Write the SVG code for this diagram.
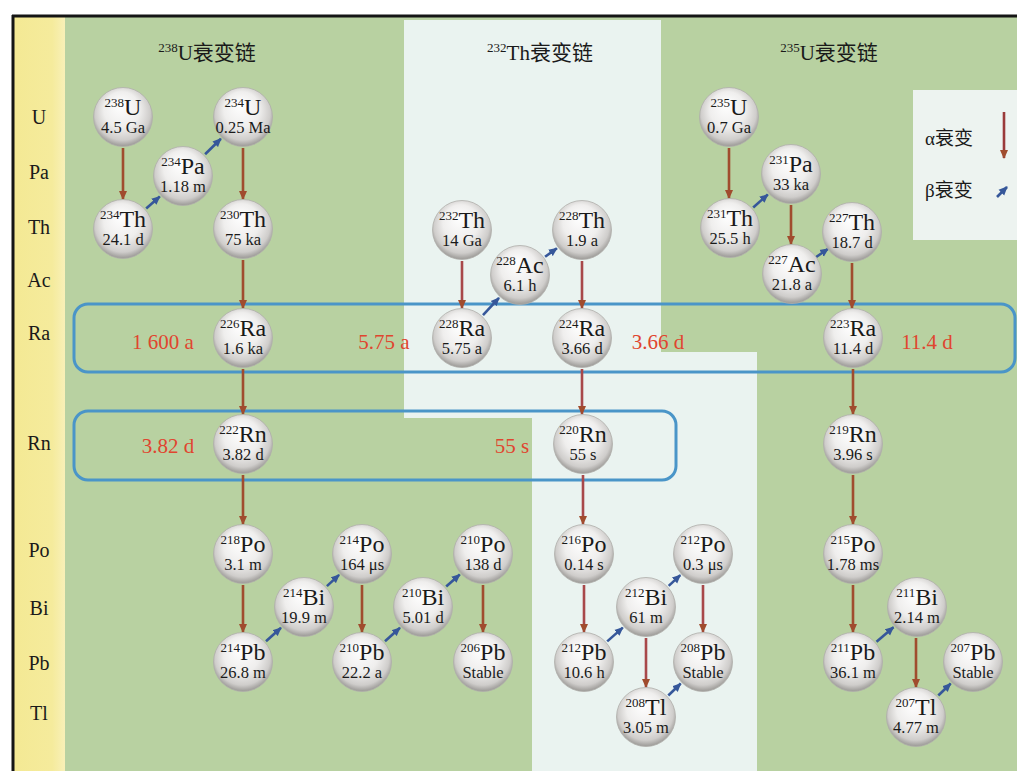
<svg xmlns="http://www.w3.org/2000/svg" width="1017" height="771" viewBox="0 0 1017 771">
<style>
text{font-family:"Liberation Serif","Noto Sans CJK SC",serif;fill:#1a1a1a}
.el{font-size:24px;text-anchor:middle}
.sup{font-size:13px}
.hl{font-size:16.5px;text-anchor:middle}
.row{font-size:20px;text-anchor:middle}
.title{font-size:21px;text-anchor:middle}
.red{font-size:21px;fill:#e0452f;text-anchor:middle}
.leg{font-size:19px}
.ball{fill:url(#ballg);stroke:#b0aeab;stroke-width:0.8}
.a{stroke:#a04c2e;stroke-width:2.6;fill:none;marker-end:url(#ma)}
.b{stroke:#36579a;stroke-width:2.6;fill:none;marker-end:url(#mb)}
.box{fill:none;stroke:#4a95c8;stroke-width:3}
</style>
<defs>
<radialGradient id="ballg" cx="0.5" cy="0.45" r="0.55" fx="0.45" fy="0.28">
<stop offset="0" stop-color="#ffffff"/>
<stop offset="0.55" stop-color="#efeeed"/>
<stop offset="0.85" stop-color="#cfcdcb"/>
<stop offset="1" stop-color="#9a9895"/>
</radialGradient>
<linearGradient id="yg" x1="0" y1="0" x2="1" y2="0">
<stop offset="0" stop-color="#f4e994"/>
<stop offset="0.75" stop-color="#f5eb9c"/>
<stop offset="1" stop-color="#f8f0b8"/>
</linearGradient>
<marker id="ma" viewBox="0 0 10 10" refX="9" refY="5" markerWidth="3.6" markerHeight="3.6" orient="auto">
<path d="M0,0.5 L10,5 L0,9.5 z" fill="#a04c2e"/>
</marker>
<marker id="mb" viewBox="0 0 10 10" refX="9" refY="5" markerWidth="3.4" markerHeight="3.4" orient="auto">
<path d="M0,0.5 L10,5 L0,9.5 z" fill="#36579a"/>
</marker>
</defs>

<g id="background">
<rect x="0" y="0" width="1017" height="771" fill="#ffffff"/>
<rect x="14" y="17" width="51" height="754" fill="url(#yg)"/>
<rect x="65" y="17" width="952" height="754" fill="#b8d1a1"/>
<path d="M404,20 H661 V352 H757 V771 H532 V418 H404 Z" fill="#eaf3f0"/>
<rect x="913" y="90" width="104" height="150" fill="#edf3f0"/>
<line x1="12" y1="16" x2="1017" y2="16" stroke="#151515" stroke-width="3"/>
<line x1="13" y1="15" x2="13" y2="771" stroke="#151515" stroke-width="3"/>
</g>

<g id="row-labels">
<text class="row" x="39" y="124">U</text>
<text class="row" x="39" y="179">Pa</text>
<text class="row" x="39" y="234">Th</text>
<text class="row" x="39" y="287">Ac</text>
<text class="row" x="39" y="340">Ra</text>
<text class="row" x="39" y="450">Rn</text>
<text class="row" x="39" y="557">Po</text>
<text class="row" x="39" y="615">Bi</text>
<text class="row" x="39" y="670">Pb</text>
<text class="row" x="39" y="720">Tl</text>
</g>

<g id="titles">
<text class="title" x="207" y="60"><tspan class="sup" dy="-8">238</tspan><tspan dy="8">U衰变链</tspan></text>
<text class="title" x="540" y="60"><tspan class="sup" dy="-8">232</tspan><tspan dy="8">Th衰变链</tspan></text>
<text class="title" x="829" y="60"><tspan class="sup" dy="-8">235</tspan><tspan dy="8">U衰变链</tspan></text>
</g>

<g id="legend">
<text class="leg" x="925" y="145">α衰变</text>
<text class="leg" x="925" y="197">β衰变</text>
<line class="a" x1="1004" y1="112" x2="1004" y2="158" style="stroke:#9a3a3a"/>
<line class="b" x1="997" y1="197" x2="1007" y2="187"/>
</g>

<g id="highlight-boxes">
<rect class="box" x="74" y="304" width="941" height="68" rx="14"/>
<rect class="box" x="74" y="411" width="602" height="69" rx="14"/>
</g>

<g id="half-life-labels">
<text class="red" x="163" y="349">1 600 a</text>
<text class="red" x="384" y="349">5.75 a</text>
<text class="red" x="658" y="349">3.66 d</text>
<text class="red" x="927" y="349">11.4 d</text>
<text class="red" x="168" y="453">3.82 d</text>
<text class="red" x="512" y="453">55 s</text>
</g>

<g id="connectors">
<line class="a" x1="123" y1="148" x2="123" y2="199"/>
<line class="a" x1="243" y1="148" x2="243" y2="199"/>
<line class="a" x1="243" y1="260" x2="243" y2="308"/>
<line class="a" x1="243" y1="369" x2="243" y2="414"/>
<line class="a" x1="243" y1="475" x2="243" y2="524"/>
<line class="a" x1="243" y1="585" x2="243" y2="632"/>
<line class="a" x1="362" y1="585" x2="362" y2="632"/>
<line class="a" x1="483" y1="585" x2="483" y2="632"/>
<line class="a" x1="462" y1="261" x2="462" y2="308" style="stroke:#a8484a"/>
<line class="a" x1="582" y1="261" x2="582" y2="308" style="stroke:#a8484a"/>
<line class="a" x1="582" y1="369" x2="582" y2="414" style="stroke:#a8484a"/>
<line class="a" x1="583" y1="475" x2="583" y2="524" style="stroke:#a8484a"/>
<line class="a" x1="584" y1="585" x2="584" y2="632" style="stroke:#a8484a"/>
<line class="a" x1="646" y1="638" x2="646" y2="687" style="stroke:#a8484a"/>
<line class="a" x1="703" y1="585" x2="703" y2="632" style="stroke:#a8484a"/>
<line class="a" x1="729" y1="148" x2="729" y2="198"/>
<line class="a" x1="791" y1="205" x2="791" y2="244"/>
<line class="a" x1="852" y1="263" x2="852" y2="308"/>
<line class="a" x1="853" y1="369" x2="853" y2="414"/>
<line class="a" x1="853" y1="475" x2="853" y2="524"/>
<line class="a" x1="853" y1="585" x2="853" y2="632"/>
<line class="a" x1="916" y1="638" x2="916" y2="687"/>
<line class="b" x1="146.2" y1="208.5" x2="159.8" y2="196.5"/>
<line class="b" x1="205.1" y1="154.3" x2="220.9" y2="138.7"/>
<line class="b" x1="266" y1="641.2" x2="281" y2="627.8"/>
<line class="b" x1="326.9" y1="586.1" x2="339.1" y2="574.9"/>
<line class="b" x1="385" y1="641.2" x2="400" y2="627.8"/>
<line class="b" x1="446.2" y1="586.5" x2="459.8" y2="574.5"/>
<line class="b" x1="483" y1="315.2" x2="499" y2="297.8"/>
<line class="b" x1="545.1" y1="256.8" x2="556.9" y2="248.2"/>
<line class="b" x1="607.2" y1="641.4" x2="622.8" y2="627.6"/>
<line class="b" x1="668.7" y1="585.9" x2="680.3" y2="575.1"/>
<line class="b" x1="668.3" y1="695.5" x2="680.7" y2="683.5"/>
<line class="b" x1="753.2" y1="207.5" x2="767.8" y2="194.5"/>
<line class="b" x1="815.8" y1="257.3" x2="828.2" y2="248.7"/>
<line class="b" x1="876.5" y1="641.8" x2="893.5" y2="627.2"/>
<line class="b" x1="938.3" y1="695.5" x2="950.7" y2="683.5"/>
</g>

<g id="n-U238"><circle class="ball" cx="123" cy="117" r="29.5"/><text class="el" x="123" y="115"><tspan class="sup" dy="-8">238</tspan><tspan dy="8">U</tspan></text><text class="hl" x="123" y="133">4.5 Ga</text></g>
<g id="n-Th234"><circle class="ball" cx="123" cy="229" r="29.5"/><text class="el" x="123" y="227"><tspan class="sup" dy="-8">234</tspan><tspan dy="8">Th</tspan></text><text class="hl" x="123" y="245">24.1 d</text></g>
<g id="n-Pa234"><circle class="ball" cx="183" cy="176" r="29.5"/><text class="el" x="183" y="174"><tspan class="sup" dy="-8">234</tspan><tspan dy="8">Pa</tspan></text><text class="hl" x="183" y="192">1.18 m</text></g>
<g id="n-U234"><circle class="ball" cx="243" cy="117" r="29.5"/><text class="el" x="243" y="115"><tspan class="sup" dy="-8">234</tspan><tspan dy="8">U</tspan></text><text class="hl" x="243" y="133">0.25 Ma</text></g>
<g id="n-Th230"><circle class="ball" cx="243" cy="229" r="29.5"/><text class="el" x="243" y="227"><tspan class="sup" dy="-8">230</tspan><tspan dy="8">Th</tspan></text><text class="hl" x="243" y="245">75 ka</text></g>
<g id="n-Ra226"><circle class="ball" cx="243" cy="338" r="29.5"/><text class="el" x="243" y="336"><tspan class="sup" dy="-8">226</tspan><tspan dy="8">Ra</tspan></text><text class="hl" x="243" y="354">1.6 ka</text></g>
<g id="n-Rn222"><circle class="ball" cx="243" cy="444" r="29.5"/><text class="el" x="243" y="442"><tspan class="sup" dy="-8">222</tspan><tspan dy="8">Rn</tspan></text><text class="hl" x="243" y="460">3.82 d</text></g>
<g id="n-Po218"><circle class="ball" cx="243" cy="554" r="29.5"/><text class="el" x="243" y="552"><tspan class="sup" dy="-8">218</tspan><tspan dy="8">Po</tspan></text><text class="hl" x="243" y="570">3.1 m</text></g>
<g id="n-Pb214"><circle class="ball" cx="243" cy="662" r="29.5"/><text class="el" x="243" y="660"><tspan class="sup" dy="-8">214</tspan><tspan dy="8">Pb</tspan></text><text class="hl" x="243" y="678">26.8 m</text></g>
<g id="n-Bi214"><circle class="ball" cx="304" cy="607" r="29.5"/><text class="el" x="304" y="605"><tspan class="sup" dy="-8">214</tspan><tspan dy="8">Bi</tspan></text><text class="hl" x="304" y="623">19.9 m</text></g>
<g id="n-Po214"><circle class="ball" cx="362" cy="554" r="29.5"/><text class="el" x="362" y="552"><tspan class="sup" dy="-8">214</tspan><tspan dy="8">Po</tspan></text><text class="hl" x="362" y="570">164 μs</text></g>
<g id="n-Pb210"><circle class="ball" cx="362" cy="662" r="29.5"/><text class="el" x="362" y="660"><tspan class="sup" dy="-8">210</tspan><tspan dy="8">Pb</tspan></text><text class="hl" x="362" y="678">22.2 a</text></g>
<g id="n-Bi210"><circle class="ball" cx="423" cy="607" r="29.5"/><text class="el" x="423" y="605"><tspan class="sup" dy="-8">210</tspan><tspan dy="8">Bi</tspan></text><text class="hl" x="423" y="623">5.01 d</text></g>
<g id="n-Po210"><circle class="ball" cx="483" cy="554" r="29.5"/><text class="el" x="483" y="552"><tspan class="sup" dy="-8">210</tspan><tspan dy="8">Po</tspan></text><text class="hl" x="483" y="570">138 d</text></g>
<g id="n-Pb206"><circle class="ball" cx="483" cy="662" r="29.5"/><text class="el" x="483" y="660"><tspan class="sup" dy="-8">206</tspan><tspan dy="8">Pb</tspan></text><text class="hl" x="483" y="678">Stable</text></g>

<g id="n-Th232"><circle class="ball" cx="462" cy="230" r="29.5"/><text class="el" x="462" y="228"><tspan class="sup" dy="-8">232</tspan><tspan dy="8">Th</tspan></text><text class="hl" x="462" y="246">14 Ga</text></g>
<g id="n-Ra228"><circle class="ball" cx="462" cy="338" r="29.5"/><text class="el" x="462" y="336"><tspan class="sup" dy="-8">228</tspan><tspan dy="8">Ra</tspan></text><text class="hl" x="462" y="354">5.75 a</text></g>
<g id="n-Ac228"><circle class="ball" cx="520" cy="275" r="29.5"/><text class="el" x="520" y="273"><tspan class="sup" dy="-8">228</tspan><tspan dy="8">Ac</tspan></text><text class="hl" x="520" y="291">6.1 h</text></g>
<g id="n-Th228"><circle class="ball" cx="582" cy="230" r="29.5"/><text class="el" x="582" y="228"><tspan class="sup" dy="-8">228</tspan><tspan dy="8">Th</tspan></text><text class="hl" x="582" y="246">1.9 a</text></g>
<g id="n-Ra224"><circle class="ball" cx="582" cy="338" r="29.5"/><text class="el" x="582" y="336"><tspan class="sup" dy="-8">224</tspan><tspan dy="8">Ra</tspan></text><text class="hl" x="582" y="354">3.66 d</text></g>
<g id="n-Rn220"><circle class="ball" cx="583" cy="444" r="29.5"/><text class="el" x="583" y="442"><tspan class="sup" dy="-8">220</tspan><tspan dy="8">Rn</tspan></text><text class="hl" x="583" y="460">55 s</text></g>
<g id="n-Po216"><circle class="ball" cx="584" cy="554" r="29.5"/><text class="el" x="584" y="552"><tspan class="sup" dy="-8">216</tspan><tspan dy="8">Po</tspan></text><text class="hl" x="584" y="570">0.14 s</text></g>
<g id="n-Pb212"><circle class="ball" cx="584" cy="662" r="29.5"/><text class="el" x="584" y="660"><tspan class="sup" dy="-8">212</tspan><tspan dy="8">Pb</tspan></text><text class="hl" x="584" y="678">10.6 h</text></g>
<g id="n-Bi212"><circle class="ball" cx="646" cy="607" r="29.5"/><text class="el" x="646" y="605"><tspan class="sup" dy="-8">212</tspan><tspan dy="8">Bi</tspan></text><text class="hl" x="646" y="623">61 m</text></g>
<g id="n-Po212"><circle class="ball" cx="703" cy="554" r="29.5"/><text class="el" x="703" y="552"><tspan class="sup" dy="-8">212</tspan><tspan dy="8">Po</tspan></text><text class="hl" x="703" y="570">0.3 μs</text></g>
<g id="n-Pb208"><circle class="ball" cx="703" cy="662" r="29.5"/><text class="el" x="703" y="660"><tspan class="sup" dy="-8">208</tspan><tspan dy="8">Pb</tspan></text><text class="hl" x="703" y="678">Stable</text></g>
<g id="n-Tl208"><circle class="ball" cx="646" cy="717" r="29.5"/><text class="el" x="646" y="715"><tspan class="sup" dy="-8">208</tspan><tspan dy="8">Tl</tspan></text><text class="hl" x="646" y="733">3.05 m</text></g>

<g id="n-U235"><circle class="ball" cx="729" cy="117" r="29.5"/><text class="el" x="729" y="115"><tspan class="sup" dy="-8">235</tspan><tspan dy="8">U</tspan></text><text class="hl" x="729" y="133">0.7 Ga</text></g>
<g id="n-Th231"><circle class="ball" cx="730" cy="228" r="29.5"/><text class="el" x="730" y="226"><tspan class="sup" dy="-8">231</tspan><tspan dy="8">Th</tspan></text><text class="hl" x="730" y="244">25.5 h</text></g>
<g id="n-Pa231"><circle class="ball" cx="791" cy="174" r="29.5"/><text class="el" x="791" y="172"><tspan class="sup" dy="-8">231</tspan><tspan dy="8">Pa</tspan></text><text class="hl" x="791" y="190">33 ka</text></g>
<g id="n-Ac227"><circle class="ball" cx="792" cy="274" r="29.5"/><text class="el" x="792" y="272"><tspan class="sup" dy="-8">227</tspan><tspan dy="8">Ac</tspan></text><text class="hl" x="792" y="290">21.8 a</text></g>
<g id="n-Th227"><circle class="ball" cx="852" cy="232" r="29.5"/><text class="el" x="852" y="230"><tspan class="sup" dy="-8">227</tspan><tspan dy="8">Th</tspan></text><text class="hl" x="852" y="248">18.7 d</text></g>
<g id="n-Ra223"><circle class="ball" cx="853" cy="338" r="29.5"/><text class="el" x="853" y="336"><tspan class="sup" dy="-8">223</tspan><tspan dy="8">Ra</tspan></text><text class="hl" x="853" y="354">11.4 d</text></g>
<g id="n-Rn219"><circle class="ball" cx="853" cy="444" r="29.5"/><text class="el" x="853" y="442"><tspan class="sup" dy="-8">219</tspan><tspan dy="8">Rn</tspan></text><text class="hl" x="853" y="460">3.96 s</text></g>
<g id="n-Po215"><circle class="ball" cx="853" cy="554" r="29.5"/><text class="el" x="853" y="552"><tspan class="sup" dy="-8">215</tspan><tspan dy="8">Po</tspan></text><text class="hl" x="853" y="570">1.78 ms</text></g>
<g id="n-Pb211"><circle class="ball" cx="853" cy="662" r="29.5"/><text class="el" x="853" y="660"><tspan class="sup" dy="-8">211</tspan><tspan dy="8">Pb</tspan></text><text class="hl" x="853" y="678">36.1 m</text></g>
<g id="n-Bi211"><circle class="ball" cx="917" cy="607" r="29.5"/><text class="el" x="917" y="605"><tspan class="sup" dy="-8">211</tspan><tspan dy="8">Bi</tspan></text><text class="hl" x="917" y="623">2.14 m</text></g>
<g id="n-Tl207"><circle class="ball" cx="916" cy="717" r="29.5"/><text class="el" x="916" y="715"><tspan class="sup" dy="-8">207</tspan><tspan dy="8">Tl</tspan></text><text class="hl" x="916" y="733">4.77 m</text></g>
<g id="n-Pb207"><circle class="ball" cx="973" cy="662" r="29.5"/><text class="el" x="973" y="660"><tspan class="sup" dy="-8">207</tspan><tspan dy="8">Pb</tspan></text><text class="hl" x="973" y="678">Stable</text></g>
</svg>
